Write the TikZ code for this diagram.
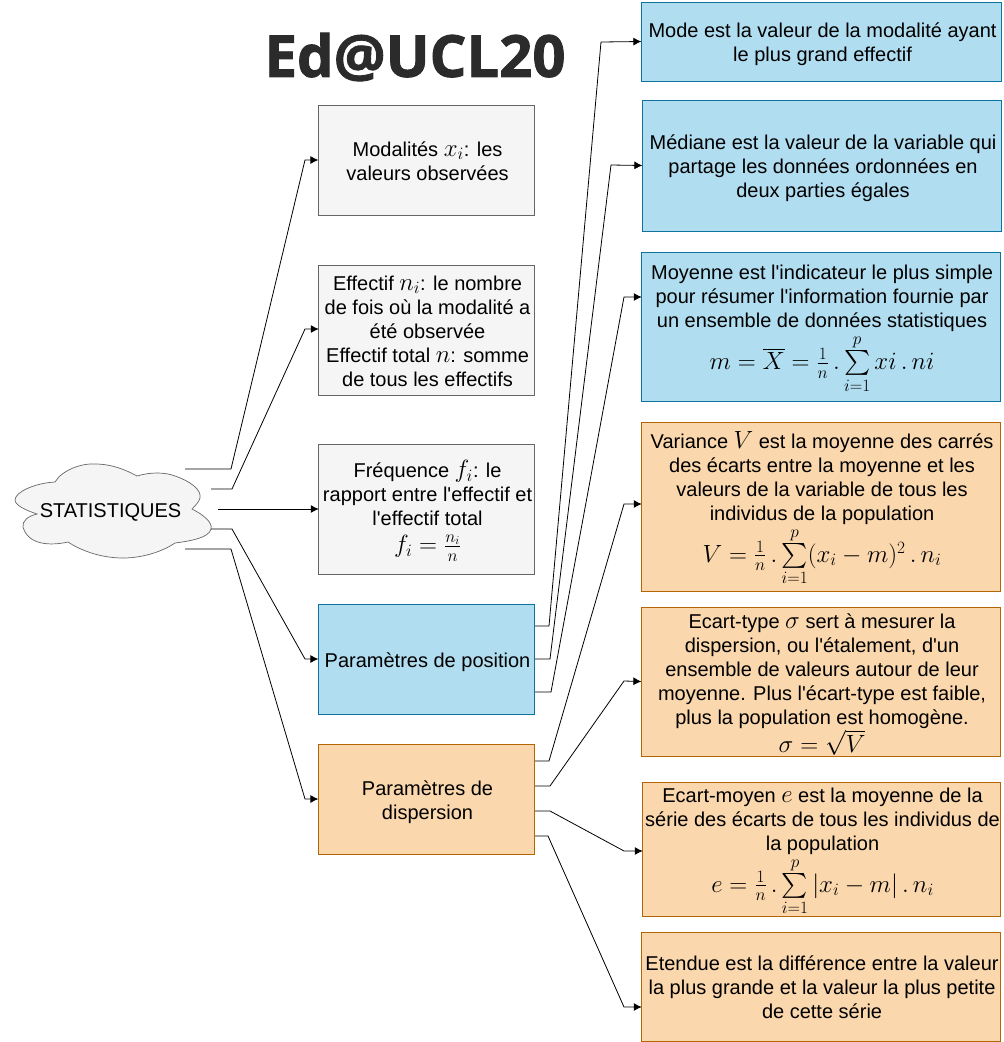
\documentclass[tikz,border=0pt]{standalone}
\usepackage{amsmath}
\usepackage{exscale}
\usepackage{fontspec}
\setmainfont{Liberation Sans}
\newfontfamily\bodyfont{Liberation Sans}
\newfontfamily\titlefont{Open Sans}[BoldFeatures={FakeBold=1.5}]
\usetikzlibrary{arrows.meta}
\definecolor{gfill}{HTML}{F5F5F5}\definecolor{gline}{HTML}{666666}
\definecolor{bfill}{HTML}{B1DDF0}\definecolor{bline}{HTML}{10739E}
\definecolor{ofill}{HTML}{FAD7AC}\definecolor{oline}{HTML}{B46504}
\definecolor{titlecol}{HTML}{2B2B2B}
\newcommand{\mth}[1]{{\fontsize{26}{24}\selectfont$#1$}}
\newcommand{\sumpi}{\sum\limits_{i=1}^{p}}
\newcommand{\rz}{-8.5pt}
\tikzset{
  box/.style={draw,line width=0.8pt,inner sep=0pt,font=\bodyfont\fontsize{20}{24}\selectfont},
  greybox/.style={box,fill=gfill,draw=gline},
  bluebox/.style={box,fill=bfill,draw=bline},
  orangebox/.style={box,fill=ofill,draw=oline},
  link/.style={draw=black,line width=0.8pt,-{Latex[length=8pt,width=8pt]}},
}
\newcommand{\bx}[7]{% name style x0 y0 x1 y1 text
  \node[#2,minimum width={(#5-#3)*1pt},minimum height={(#6-#4)*1pt}] (#1) at ({(#3+#5)/2-0.25},{(#4+#6)/2})
  {\hspace*{1.6pt}\raisebox{\rz}[0pt][0pt]{\begin{tabular}{@{}c@{}}#7\end{tabular}}};}
\begin{document}
\begin{tikzpicture}[x=1pt,y=-1pt]
\useasboundingbox (0,0) rectangle (1004,1042);
% cloud
\draw[draw=gline,fill=gfill,line width=0.7pt]
 (55,482) .. controls (62,470) and (82,463) .. (95,464)
 .. controls (112,464) and (126,470) .. (137,476)
 .. controls (150,472) and (165,472) .. (175,476)
 .. controls (190,481) and (202,490) .. (200,498)
 .. controls (199,502) and (195,506) .. (192,509)
 .. controls (202,514) and (213,522) .. (211,529)
 .. controls (209,538) and (190,541) .. (175,543)
 .. controls (165,550) and (145,558) .. (123,558)
 .. controls (100,558) and (80,550) .. (68,542)
 .. controls (50,546) and (28,545) .. (23,527)
 .. controls (22,521) and (28,516) .. (37,514)
 .. controls (25,510) and (15,505) .. (15,500)
 .. controls (15,492) and (35,483) .. (55,482) -- cycle;
\node[font=\bodyfont\fontsize{20}{24}\selectfont,inner sep=0pt] (cloud) at (110.5,512) {STATISTIQUES};
% title
\node[font=\titlefont\bfseries\fontsize{58}{60}\selectfont,text=titlecol,inner sep=0pt] (title) at (415,57) {Ed@UCL20};
% left boxes
\bx{m1}{greybox}{319}{105}{535}{215}{Modalités \mth{x_i}: les\\valeurs observées}
\bx{m2}{greybox}{319}{265}{535}{395}{Effectif \mth{n_i}: le nombre\\de fois où la modalité a\\été observée\\Effectif total \mth{n}: somme\\de tous les effectifs}
\bx{m3}{greybox}{319}{444}{535}{574}{Fréquence \mth{f_i}: le\\rapport entre l'effectif et\\l'effectif total\\[2pt]\mth{f_i=\tfrac{n_i}{n}}\rule[-11.5pt]{0pt}{1pt}}
\bx{pp}{bluebox}{319}{604}{535}{714}{Paramètres de position}
\bx{pd}{orangebox}{319}{744}{535}{854}{Paramètres de\\dispersion}
% right boxes
\bx{r1}{bluebox}{642}{2}{1002}{81}{Mode est la valeur de la modalité ayant\\le plus grand effectif}
\bx{r2}{bluebox}{643}{100}{1002}{231}{Médiane est la valeur de la variable qui\\partage les données ordonnées en\\deux parties égales}
\renewcommand{\rz}{-7pt}
\bx{r3}{bluebox}{642}{252}{1001}{401}{Moyenne est l'indicateur le plus simple\\pour résumer l'information fournie par\\un ensemble de données statistiques\\\mth{m=\overline{X}=\tfrac{1}{n}\,.\sumpi xi\,.\,ni}}
\renewcommand{\rz}{-7.5pt}
\bx{r4}{orangebox}{642}{422}{1001}{591}{Variance \mth{V} est la moyenne des carrés\\des écarts entre la moyenne et les\\valeurs de la variable de tous les\\individus de la population\\\mth{V=\tfrac{1}{n}\,.\sumpi(x_i-m)^2\,.\,n_i}}
\renewcommand{\rz}{-8.5pt}
\bx{r5}{orangebox}{642}{607}{1001}{756}{\rule{0pt}{18.8pt}Ecart-type \mth{\sigma} sert à mesurer la\\dispersion, ou l'étalement, d'un\\ensemble de valeurs autour de leur\\moyenne. Plus l'écart-type est faible,\\plus la population est homogène.\\[-2pt]\mth{\sigma=\sqrt{V}}}
\renewcommand{\rz}{-7pt}
\bx{r6}{orangebox}{643}{782}{1001}{916}{Ecart-moyen \mth{e} est la moyenne de la\\série des écarts de tous les individus de\\la population\\\mth{e=\tfrac{1}{n}\,.\sumpi|x_i-m|\,.\,n_i}}
\renewcommand{\rz}{-8.5pt}
\bx{r7}{orangebox}{642}{932}{1001}{1041}{Etendue est la différence entre la valeur\\la plus grande et la valeur la plus petite\\de cette série}
% connector free ends
\coordinate (c1) at (185,469);\coordinate (c2) at (211,489);\coordinate (c3) at (218,509);\coordinate (c4) at (211,529);\coordinate (c5) at (185,549);
\coordinate (p1) at (535,626);\coordinate (p2) at (535,659);\coordinate (p3) at (535,692);
\coordinate (d1) at (535,761);\coordinate (d2) at (535,786);\coordinate (d3) at (535,811);\coordinate (d4) at (535,836);
\coordinate (m2in) at (318.75,329);\coordinate (m3in) at (318.75,509);
\coordinate (r3in) at (641.75,297);\coordinate (r4in) at (641.75,504);\coordinate (r6in) at (642.75,851);\coordinate (r7in) at (641.75,1007);
% connectors
\draw[link] (c1) -- (231,469) -- (305,160) -- (m1.west);
\draw[link] (c2) -- (232,489) -- (305,329) -- (m2in);
\draw[link] (c3) -- (m3in);
\draw[link] (c4) -- (232,529) -- (305,659) -- (pp.west);
\draw[link] (c5) -- (231,549) -- (305,799) -- (pd.west);
\draw[link] (p1) -- (549,626) -- (601,42) -- (r1.west);
\draw[link] (p2) -- (550,659) -- (611,165) -- (r2.west);
\draw[link] (p3) -- (551,692) -- (624,297) -- (r3in);
\draw[link] (d1) -- (549,761) -- (624,504) -- (r4in);
\draw[link] (d2) -- (550,786) -- (624,681) -- (r5.west);
\draw[link] (d3) -- (550,811) -- (624,851) -- (r6in);
\draw[link] (d4) -- (548,836) -- (624,1007) -- (r7in);
\end{tikzpicture}
\end{document}
